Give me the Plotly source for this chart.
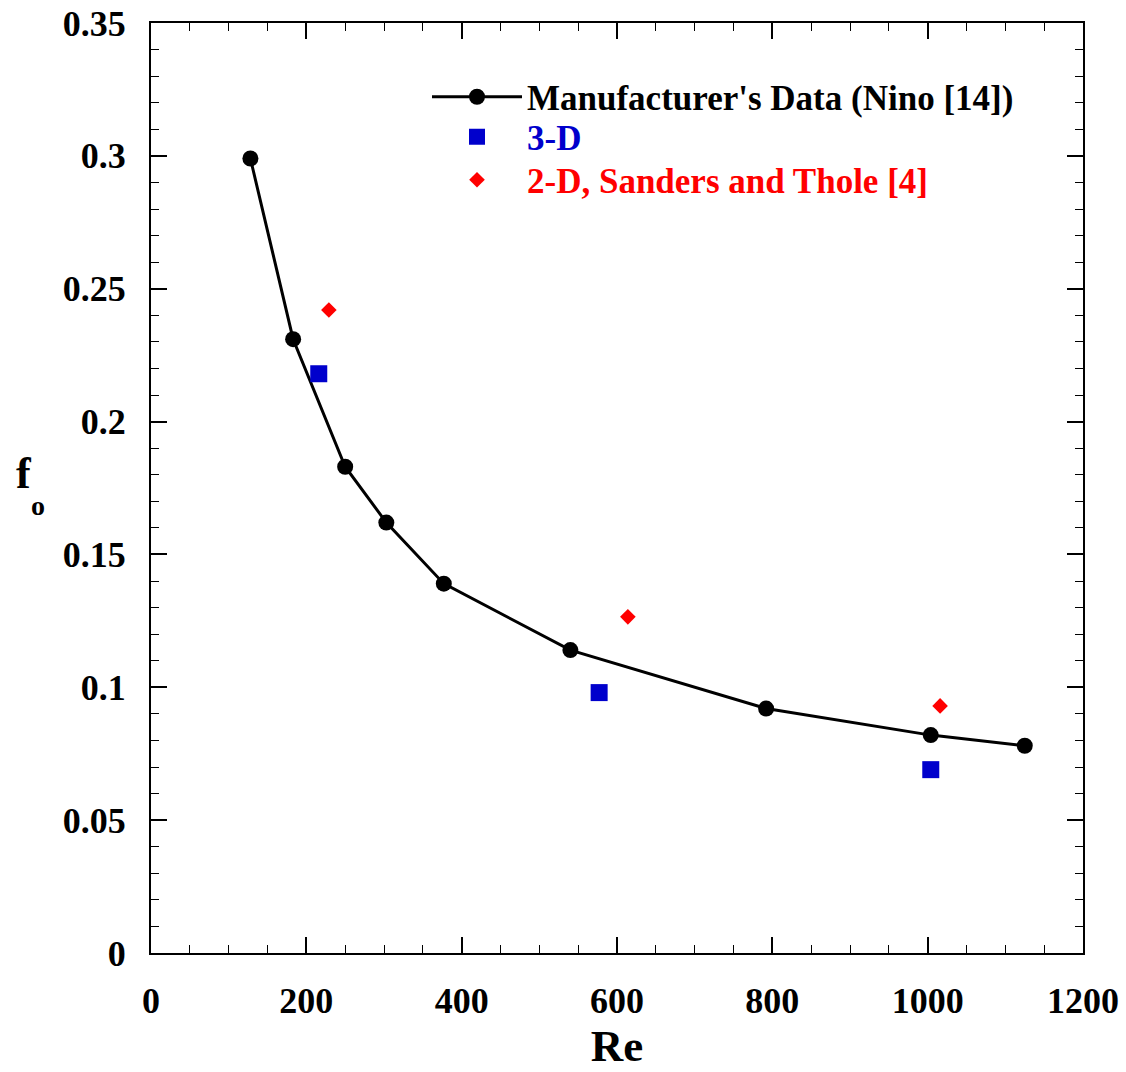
import plotly.graph_objects as go

# Manufacturer's data (Nino [14])
re_man = [128, 183, 250, 303, 377, 540, 792, 1004, 1125]
f_man = [0.299, 0.231, 0.183, 0.162, 0.139, 0.114, 0.092, 0.082, 0.078]

# 3-D
re_3d = [216, 577, 1004]
f_3d = [0.218, 0.098, 0.069]

# 2-D, Sanders and Thole [4]
re_2d = [229, 614, 1016]
f_2d = [0.242, 0.1265, 0.093]

x_ticks = [0, 200, 400, 600, 800, 1000, 1200]
y_ticks = [0, 0.05, 0.1, 0.15, 0.2, 0.25, 0.3, 0.35]
y_ticktext = ["0", "0.05", "0.1", "0.15", "0.2", "0.25", "0.3", "0.35"]

FONT = "Liberation Serif"
BLUE = "#0000CC"
RED = "#FF0000"

fig = go.Figure()
fig.add_trace(go.Scatter(
    x=re_man, y=f_man, mode="lines+markers",
    name="Manufacturer's Data (Nino [14])",
    line=dict(color="black", width=3),
    marker=dict(symbol="circle", size=16, color="black"),
    legend="legend",
))
fig.add_trace(go.Scatter(
    x=re_3d, y=f_3d, mode="markers", name="3-D",
    marker=dict(symbol="square", size=17, color=BLUE),
    legend="legend2",
))
fig.add_trace(go.Scatter(
    x=re_2d, y=f_2d, mode="markers", name="2-D, Sanders and Thole [4]",
    marker=dict(symbol="diamond", size=12, color=RED),
    legend="legend3",
))

axis_common = dict(
    showline=True, linecolor="black", linewidth=2, mirror="ticks",
    ticks="inside", ticklen=16, tickwidth=1.5, tickcolor="black",
    showgrid=False, zeroline=False, automargin=False,
    tickfont=dict(family=FONT, size=36, color="black", weight="bold"),
)

fig.update_xaxes(
    range=[0, 1200], tickmode="array", tickvals=x_ticks,
    minor=dict(dtick=50, ticks="inside", ticklen=8, tickwidth=1.2, tickcolor="black"),
    ticklabelstandoff=15,
    title=dict(text="Re", font=dict(family=FONT, size=45, color="black", weight="bold"), standoff=8),
    **axis_common,
)
fig.update_yaxes(
    range=[0, 0.35], tickmode="array", tickvals=y_ticks, ticktext=y_ticktext,
    minor=dict(dtick=0.01, ticks="inside", ticklen=8, tickwidth=1.2, tickcolor="black"),
    ticklabelstandoff=16,
    **axis_common,
)

# y-axis title f_o (upright)
fig.add_annotation(
    xref="paper", yref="paper", x=(24 - 151) / 932, y=(953 - 473) / 930,
    showarrow=False, text="f", xanchor="center", yanchor="middle",
    font=dict(family=FONT, size=44, color="black", weight="bold"),
)
fig.add_annotation(
    xref="paper", yref="paper", x=(38 - 151) / 932, y=(953 - 505) / 930,
    showarrow=False, text="o", xanchor="center", yanchor="middle",
    font=dict(family=FONT, size=28, color="black", weight="bold"),
)

leg_common = dict(
    xanchor="left", yanchor="middle", bgcolor="rgba(0,0,0,0)", borderwidth=0,
    itemwidth=90, x=(427 - 151) / 932,
)
fig.update_layout(
    width=1126, height=1072,
    margin=dict(l=151, r=43, t=23, b=119),
    paper_bgcolor="white", plot_bgcolor="white",
    showlegend=True,
    legend=dict(y=(953 - 97) / 930,
                font=dict(family=FONT, size=35, color="black", weight="bold"), **leg_common),
    legend2=dict(y=(953 - 137) / 930,
                 font=dict(family=FONT, size=35, color=BLUE, weight="bold"), **leg_common),
    legend3=dict(y=(953 - 180) / 930,
                 font=dict(family=FONT, size=35, color=RED, weight="bold"), **leg_common),
)

fig.write_html("out.html")
